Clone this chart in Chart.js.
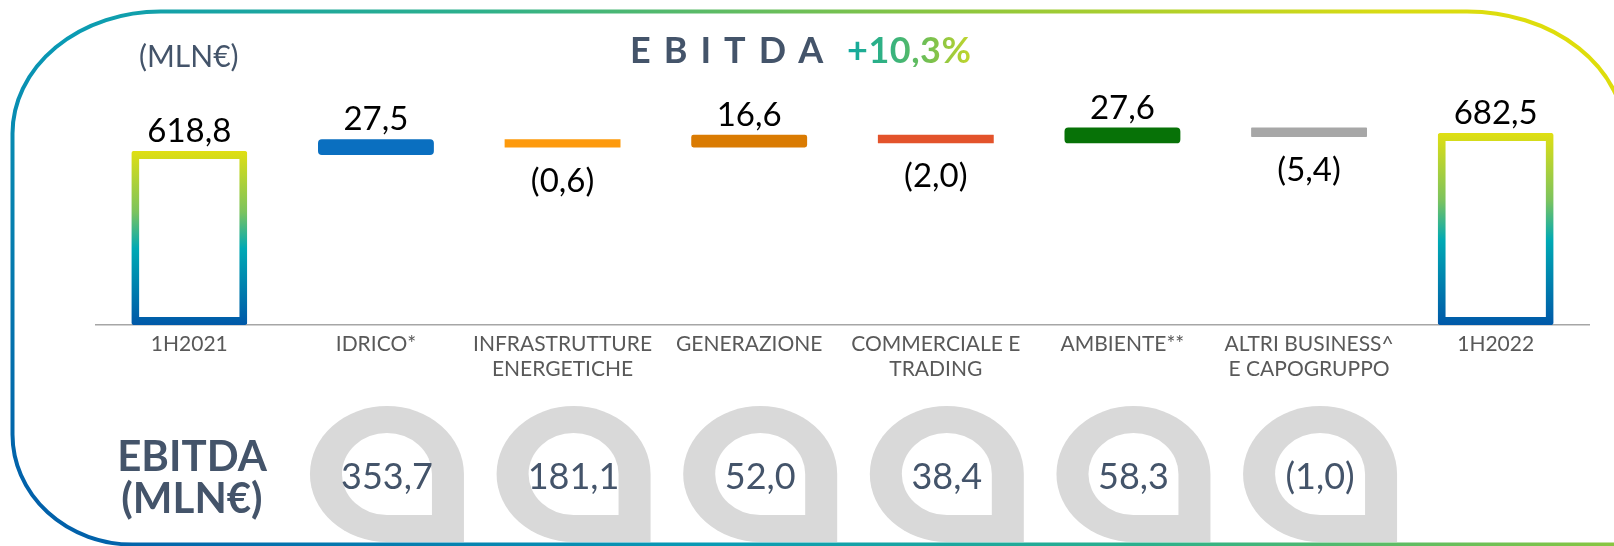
<!DOCTYPE html>
<html lang="it">
<head>
<meta charset="utf-8">
<title>EBITDA 1H2022</title>
<script src="https://cdn.jsdelivr.net/npm/chart.js@4.4.1/dist/chart.umd.min.js"></script>
<style>
  html, body { margin: 0; padding: 0; background: #fff; }
  body { width: 1614px; height: 546px; overflow: hidden; position: relative; font-family: Lato, "Noto Sans", sans-serif; }
  #chart { position: absolute; left: 0; top: 0; }
  .t { position: absolute; white-space: nowrap; line-height: 1; }
  #unit { left: 139px; top: 40px; font-size: 30px; color: #44546a; }
  #title { left: 630px; top: 31px; font-size: 36px; font-weight: 700; color: #44546a; letter-spacing: 13px; }
  #growth { left: 847px; top: 31px; font-size: 36px; font-weight: 700; letter-spacing: 0.5px;
    background: linear-gradient(90deg, #10a9a0 0%, #3cb47a 40%, #7fc24a 70%, #c2d62c 100%);
    -webkit-background-clip: text; background-clip: text; color: transparent; }
  #side { left: 92px; top: 434px; width: 200px; text-align: center; font-size: 42px; font-weight: 700; color: #44546a; line-height: 42px; }
</style>
</head>
<body>
<canvas id="chart" width="1614" height="546"></canvas>
<div class="t" id="unit">(MLN€)</div>
<div class="t" id="title">EBITDA</div>
<div class="t" id="growth">+10,3%</div>
<div class="t" id="side">EBITDA<br>(MLN€)</div>
<script>
// Bridge of EBITDA by business area, millions of euro
const categories = [
  '1H2021',
  'IDRICO*',
  ['INFRASTRUTTURE', 'ENERGETICHE'],
  'GENERAZIONE',
  ['COMMERCIALE E', 'TRADING'],
  'AMBIENTE**',
  ['ALTRI BUSINESS^', 'E CAPOGRUPPO'],
  '1H2022'
];
const ebitdaStart = 618.8;
const ebitdaEnd = 682.5;
const businessDeltas = [27.5, -0.6, 16.6, -2.0, 27.6, -5.4];
const businessEbitda = [353.7, 181.1, 52.0, 38.4, 58.3, -1.0];

// Styling
const deltaColors = ['#0a6fc0', '#fd9a0d', '#da7b02', '#e3532b', '#077207', '#a7a7a7'];
const FONT = 'Lato, "Noto Sans", sans-serif';
const DELTA_INFLATE = 4;

// Italian number format, negatives in brackets
const fmt = v => {
  const s = Math.abs(v).toFixed(1).replace('.', ',');
  return v < 0 ? '(' + s + ')' : s;
};

// Totals at both ends, floating steps in between
const last = categories.length - 1;
const totals = categories.map((_, i) => i === 0 ? ebitdaStart : (i === last ? ebitdaEnd : null));
const steps = [null];
let level = ebitdaStart;
businessDeltas.forEach(d => {
  const next = Math.round((level + d) * 10) / 10;
  steps.push([level, next]);
  level = next;
});
steps.push(null);

function totalGradient(c) {
  const chart = c.chart;
  if (!chart.chartArea || !c.parsed || c.parsed.y == null) return '#0a9bb4';
  const ys = chart.scales.y;
  const top = ys.getPixelForValue(c.parsed.y);
  const bottom = ys.getPixelForValue(0);
  if (!Number.isFinite(top) || !Number.isFinite(bottom)) return '#0a9bb4';
  const g = chart.ctx.createLinearGradient(0, top, 0, bottom);
  g.addColorStop(0, '#e0df12');
  g.addColorStop(0.35, '#7cc35e');
  g.addColorStop(0.56, '#00a9b4');
  g.addColorStop(1, '#0058a8');
  return g;
}

// Rounded outline with a blue-to-yellow sweep
const framePlugin = {
  id: 'frame',
  beforeDraw(chart) {
    const { ctx } = chart;
    ctx.save();
    const g = ctx.createLinearGradient(0, 546, 916, -619);
    g.addColorStop(0, '#0058a8');
    g.addColorStop(0.3, '#0a9bb4');
    g.addColorStop(0.48, '#2cb08c');
    g.addColorStop(0.68, '#8cc63f');
    g.addColorStop(0.86, '#d8db14');
    g.addColorStop(1, '#e6e000');
    ctx.strokeStyle = g;
    ctx.lineWidth = 4;
    const L = 12.5, T = 11.5, B = 544.5, R = 1625;
    ctx.beginPath();
    ctx.moveTo(L + 148, T);
    ctx.lineTo(R - 158, T);
    ctx.ellipse(R - 158, T + 125, 158, 125, 0, -Math.PI / 2, 0);
    ctx.lineTo(R, B);
    ctx.lineTo(L + 120, B);
    ctx.ellipse(L + 120, B - 110, 120, 110, 0, Math.PI / 2, Math.PI);
    ctx.lineTo(L, T + 122);
    ctx.ellipse(L + 148, T + 122, 148, 122, 0, Math.PI, Math.PI * 1.5);
    ctx.closePath();
    ctx.stroke();
    ctx.restore();
  }
};

function dropPath(ctx, cx, cy, rx, ry) {
  ctx.beginPath();
  ctx.moveTo(cx + rx, cy + ry);
  ctx.lineTo(cx + rx, cy);
  ctx.ellipse(cx, cy, rx, ry, 0, 0, Math.PI / 2, true);
  ctx.closePath();
}

// Segment EBITDA badges under each business column
const badgePlugin = {
  id: 'badges',
  afterDraw(chart) {
    const { ctx, scales: { x } } = chart;
    ctx.save();
    businessEbitda.forEach((v, k) => {
      const cx = x.getPixelForValue(k + 1) + 11;
      const cy = 474;
      dropPath(ctx, cx, cy, 77, 68);
      ctx.fillStyle = '#d9d9d9';
      ctx.fill();
      dropPath(ctx, cx, cy, 45, 41);
      ctx.fillStyle = '#ffffff';
      ctx.fill();
      ctx.fillStyle = '#44546a';
      ctx.font = '36px ' + FONT;
      ctx.textAlign = 'center';
      ctx.textBaseline = 'middle';
      ctx.fillText(fmt(v), cx, cy + 3);
    });
    ctx.restore();
  }
};

// Value labels above rises and totals, below falls
const valueLabelPlugin = {
  id: 'valueLabels',
  afterDatasetsDraw(chart) {
    const { ctx } = chart;
    ctx.save();
    ctx.font = '33px ' + FONT;
    ctx.fillStyle = '#000000';
    ctx.textAlign = 'center';
    chart.data.datasets.forEach((ds, di) => {
      const meta = chart.getDatasetMeta(di);
      meta.data.forEach((bar, i) => {
        const raw = ds.data[i];
        if (raw == null) return;
        const { x, y, base } = bar.getProps(['x', 'y', 'base'], true);
        const inflate = typeof bar.inflateAmount === 'number' ? bar.inflateAmount : 0;
        const top = Math.min(y, base) - inflate;
        const bottom = Math.max(y, base) + inflate;
        const value = Array.isArray(raw) ? businessDeltas[i - 1] : raw;
        if (value >= 0) {
          ctx.textBaseline = 'alphabetic';
          ctx.fillText(fmt(value), x, top - 9);
        } else {
          ctx.textBaseline = 'top';
          ctx.fillText(fmt(value), x, bottom + 17);
        }
      });
    });
    ctx.restore();
  }
};

new Chart(document.getElementById('chart'), {
  type: 'bar',
  data: {
    labels: categories,
    datasets: [
      {
        label: 'EBITDA',
        data: totals,
        grouped: false,
        categoryPercentage: 1,
        barPercentage: 0.621,
        backgroundColor: '#ffffff',
        borderColor: totalGradient,
        borderWidth: 8,
        borderSkipped: false,
        borderRadius: 2,
        inflateAmount: 0
      },
      {
        label: 'Variazione',
        data: steps,
        grouped: false,
        categoryPercentage: 1,
        barPercentage: 0.578,
        backgroundColor: c => deltaColors[(c.dataIndex || 1) - 1],
        borderWidth: 0,
        borderSkipped: false,
        borderRadius: 4,
        inflateAmount: DELTA_INFLATE
      }
    ]
  },
  options: {
    responsive: false,
    animation: false,
    devicePixelRatio: 1,
    layout: { padding: { left: 96, right: 25, top: 100, bottom: 0 } },
    plugins: { legend: { display: false }, tooltip: { enabled: false } },
    scales: {
      x: {
        grid: { display: false, drawTicks: false },
        border: { display: true, color: '#a6a6a6', width: 1.5 },
        ticks: {
          color: '#595959',
          font: { family: FONT, size: 21, lineHeight: 1.19 },
          padding: 7,
          maxRotation: 0,
          autoSkip: false
        },
        afterFit(scale) { scale.height = 221; }
      },
      y: { display: false, min: 0, max: 800 }
    }
  },
  plugins: [framePlugin, valueLabelPlugin, badgePlugin]
});
</script>
</body>
</html>
